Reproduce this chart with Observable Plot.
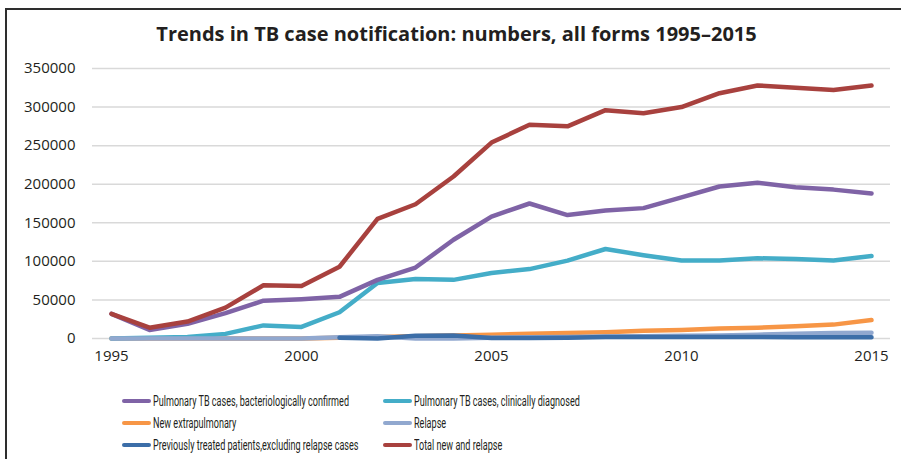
<!DOCTYPE html>
<html>
<head>
<meta charset="utf-8">
<script src="https://cdn.jsdelivr.net/npm/d3@7"></script>
<script src="https://cdn.jsdelivr.net/npm/@observablehq/plot@0.6"></script>
<style>
  body { margin: 0; background: #fff; width: 901px; height: 459px; overflow: hidden; position: relative; }
  #frame { position: absolute; left: 5px; top: 8px; width: 1000px; height: 600px; border-left: 2px solid #2e2e2e; border-top: 2px solid #2e2e2e; }
  #title { position: absolute; left: 6px; width: 901px; top: 20px; line-height: 20px; text-align: center; font: bold 20px "Open Sans", sans-serif; color: #231f20; white-space: nowrap; }
  #chart { position: absolute; left: 0; top: 0; }
  #legend { position: absolute; left: 122px; top: 390px; display: grid; grid-template-columns: 261px 300px; row-gap: 1px; }
  .item { display: flex; align-items: center; height: 21px; color: #231f20; white-space: nowrap; }
  .sw { width: 29px; height: 4px; border-radius: 2px; margin-right: 2px; flex: none; }
  .lt { display: inline-block; font: 15px Roboto, "Open Sans", sans-serif; transform-origin: left center; }
</style>
</head>
<body>
<div id="frame"></div>
<div id="title">Trends in TB case notification: numbers, all forms 1995–2015</div>
<div id="chart"></div>
<div id="legend"></div>
<script>
const years = d3.range(1995, 2016);
const bactConfirmed = [32000, 11000, 19000, 33000, 49000, 51000, 54000, 76000, 92000, 128000, 158000, 175000, 160000, 166000, 169000, 183000, 197000, 202000, 196000, 193000, 188000];
const clinicallyDiagnosed = [0, 1000, 2000, 6000, 17000, 15000, 34000, 72000, 77000, 76000, 85000, 90000, 101000, 116000, 108000, 101000, 101000, 104000, 103000, 101000, 107000];
const newExtrapulmonary = [0, 0, 0, 0, 0, 0, 1000, 2000, 3000, 4000, 5000, 6000, 7000, 8000, 10000, 11000, 13000, 14000, 16000, 18000, 24000];
const relapse = [0, 0, 0, 0, 0, 0, 1500, 3000, 0, 0, 1000, 1500, 2000, 2500, 3000, 3500, 4000, 5000, 6000, 7000, 7500];
const previouslyTreated = [null, null, null, null, null, null, 1000, 0, 3500, 4000, 500, 500, 1000, 2000, 2000, 2000, 2000, 2000, 1500, 1500, 1500];
const totalNewRelapse = [32000, 14000, 22000, 40000, 69000, 68000, 93000, 155000, 174000, 210000, 254000, 277000, 275000, 296000, 292000, 300000, 318000, 328000, 325000, 322000, 328000];

const yTicks = [0, 50000, 100000, 150000, 200000, 250000, 300000, 350000];
const xTicks = [1995, 2000, 2005, 2010, 2015];

const series = [
  {name: "Pulmonary TB cases, bacteriologically confirmed", values: bactConfirmed, color: "#7f63a6"},
  {name: "Pulmonary TB cases, clinically diagnosed", values: clinicallyDiagnosed, color: "#44adc8"},
  {name: "New extrapulmonary", values: newExtrapulmonary, color: "#f79646"},
  {name: "Relapse", values: relapse, color: "#91a8cf"},
  {name: "Previously treated patients,excluding relapse cases", values: previouslyTreated, color: "#3c6ea8"},
  {name: "Total new and relapse", values: totalNewRelapse, color: "#a8413e"}
];
const drawOrder = [2, 1, 0, 3, 4, 5];

const marks = [
  Plot.gridY(yTicks, {stroke: "#d9d9d9", strokeOpacity: 1, strokeWidth: 1.5}),
  Plot.axisY({ticks: yTicks, tickSize: 0, tickPadding: 17, tickFormat: d => String(d), fontSize: 15}),
  Plot.axisX({ticks: xTicks, tickSize: 0, tickPadding: 12, tickFormat: d => String(d), fontSize: 15})
];
for (const i of drawOrder) {
  const s = series[i];
  const data = years.map((y, k) => ({year: y, value: s.values[k]}));
  marks.push(Plot.line(data, {x: "year", y: "value", stroke: s.color, strokeWidth: 4.5, defined: d => d.value != null, curve: "linear"}));
}

const plot = Plot.plot({
  width: 901,
  height: 380,
  marginLeft: 92,
  marginRight: 11,
  marginTop: 68,
  marginBottom: 42,
  style: {fontFamily: "'Open Sans', sans-serif", color: "#231f20", background: "transparent"},
  x: {domain: [1994.5, 2015.5], label: null},
  y: {domain: [0, 350000], label: null},
  marks
});
document.getElementById("chart").appendChild(plot);

// Legend: condensed text (reference uses a condensed face)
const legend = document.getElementById("legend");
const textEls = [];
for (const s of series) {
  const item = document.createElement("div");
  item.className = "item";
  const sw = document.createElement("span");
  sw.className = "sw";
  sw.style.background = s.color;
  item.appendChild(sw);
  const t = document.createElement("span");
  t.className = "lt";
  t.textContent = s.name;
  item.appendChild(t);
  legend.appendChild(item);
  textEls.push(t);
}
const refWidth = textEls[0].getBoundingClientRect().width;
const condense = refWidth > 0 ? 196 / refWidth : 0.65;
for (const t of textEls) t.style.transform = `scaleX(${condense})`;
</script>
</body>
</html>
